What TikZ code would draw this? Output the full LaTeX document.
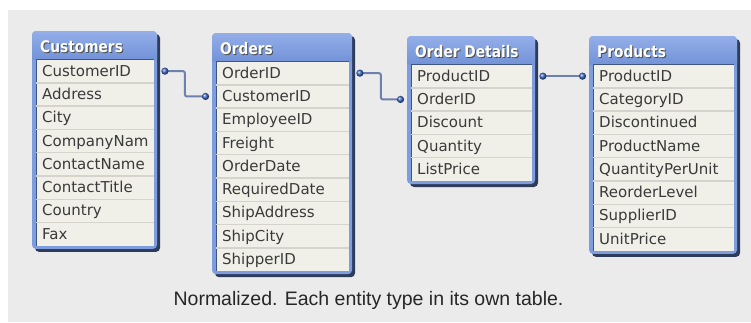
\documentclass[tikz,border=0pt]{standalone}
\usepackage{fontspec}
\setmainfont{Liberation Sans}
\newfontfamily\tabfont{DejaVu Sans}
\newfontfamily\headfont{DejaVu Sans}[FakeStretch=0.86]
\usetikzlibrary{calc}

\definecolor{pagebg}{HTML}{EBEBEB}
\definecolor{framebl}{HTML}{7E9DDF}
\definecolor{headtop}{HTML}{93AEE8}
\definecolor{headbot}{HTML}{7393D8}
\definecolor{frameshadow}{HTML}{2E3C5C}
\definecolor{innerline}{HTML}{3F5585}
\definecolor{rowbg}{HTML}{F0EFE8}
\definecolor{rowsep}{HTML}{D5D3CB}
\definecolor{rowtxt}{HTML}{3A3A3A}
\definecolor{linkcol}{HTML}{6E80AE}
\definecolor{dotcol}{HTML}{3A68C4}

\tikzset{
  rowcell/.style={anchor=west, inner xsep=6pt, inner ysep=0pt,
    text height=12pt, text depth=2pt,
    minimum height=23.3pt, align=left,
    font=\tabfont\fontsize{15}{15}\selectfont, text=rowtxt},
  headtext/.style={anchor=west, inner sep=0pt,
    text height=15pt, text depth=1pt,
    font=\headfont\bfseries\fontsize{16}{16}\selectfont, text=white},
  headshadow/.style={headtext, text=black!70},
  link/.style={draw=linkcol, line width=2pt, rounded corners=2pt},
  dotball/.style={shading=ball, ball color=dotcol},
}

% #1 name, #2 left, #3 right, #4 top, #5 title, #6 number of rows, #7 rows
\newcommand\dbtable[7]{%
  \pgfmathsetmacro\tbH{#4+28.5}%
  \pgfmathsetmacro\tbB{\tbH+#6*23.3+6}%
  \pgfmathsetmacro\tbW{#3-#2-10-12}%
  \pgfmathsetmacro\tbM{(#4+\tbH)/2}%
  \fill[frameshadow, rounded corners=4pt] (#2+3,#4+3) rectangle (#3,\tbB);
  \fill[framebl, rounded corners=4pt] (#2,#4) rectangle (#3-3,\tbB-3);
  \shade[top color=headtop, bottom color=headbot]
    (#2,\tbH) [rounded corners=4pt] -- (#2,#4) -- (#3-3,#4)
    [sharp corners] -- (#3-3,\tbH) -- cycle;
  \fill[rowbg] (#2+4,\tbH) rectangle (#3-6,\tbB-6);
  \draw[innerline, line width=1pt] (#2+4,\tbB-6) -- (#2+4,\tbH) -- (#3-6,\tbH);
  \node[headshadow] at (#2+9,\tbM+1) {#5};
  \node[headtext] (#1) at (#2+8,\tbM) {#5};
  \foreach \r [count=\i] in {#7} {
    \ifnum\i<#6\relax
      \draw[rowsep, line width=1.5pt] (#2+4,\tbH+\i*23.3) -- (#3-6,\tbH+\i*23.3);
    \fi
    \node[rowcell, text width=\tbW pt] (#1-\i) at (#2+4,\tbH+\i*23.3-11.65) {\r};
  }
}

\begin{document}
\begin{tikzpicture}[x=1pt, y=-1pt]
  \useasboundingbox (0,0) rectangle (751,322);
  \fill[white] (0,0) rectangle (751,322);
  \fill[pagebg] (8,10) rectangle (751,322);

  \dbtable{cust}{32}{160}{31}{Customers}{8}%
    {CustomerID,Address,City,CompanyNam,ContactName,ContactTitle,Country,Fax}
  \dbtable{ord}{212}{355}{33}{Orders}{9}%
    {OrderID,CustomerID,EmployeeID,Freight,OrderDate,RequiredDate,ShipAddress,ShipCity,ShipperID}
  \dbtable{det}{407}{538}{36}{Order Details}{5}%
    {ProductID,OrderID,Discount,Quantity,ListPrice}
  \dbtable{prod}{589}{740}{36}{Products}{8}%
    {ProductID,CategoryID,Discontinued,ProductName,QuantityPerUnit,ReorderLevel,SupplierID,UnitPrice}

  % key links between the tables
  \coordinate (k1a) at ([xshift=10.5pt]cust-1.east);
  \coordinate (k1b) at ([xshift=-10.5pt]ord-2.west);
  \coordinate (k2a) at ([xshift=10.5pt]ord-1.east);
  \coordinate (k2b) at ([xshift=-10.5pt]det-2.west);
  \coordinate (k3a) at ([xshift=10.5pt]det-1.east);
  \coordinate (k3b) at ([xshift=-10.5pt]prod-1.west);

  \draw[link] (k1a) -- ++(20,0) |- (k1b);
  \draw[link] (k2a) -- ++(21,0) |- (k2b);
  \draw[link] (k3a) -- (k3b);
  \foreach \k in {k1a,k1b,k2a,k2b,k3a,k3b}
    \shade[dotball] (\k) circle (3.6pt);

  \node[font=\fontsize{19.5}{20}\selectfont, text=black!85, inner sep=0pt]
    (caption) at (368.5,300) {Normalized. Each entity type in its own table.};
\end{tikzpicture}
\end{document}
